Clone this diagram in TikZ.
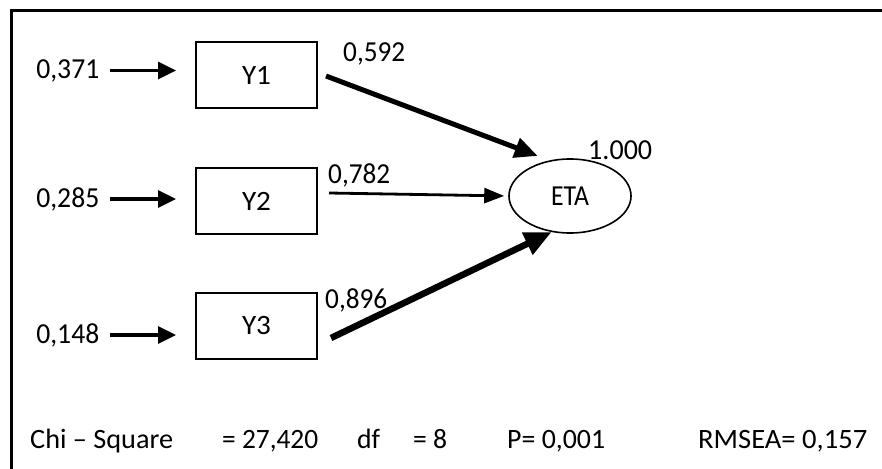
\documentclass[tikz,border=0pt]{standalone}
\usepackage{fontspec}
\setmainfont{Carlito}
\usepackage{graphicx}
\usetikzlibrary{arrows.meta,shapes.geometric}
\newcommand\fw[2]{\resizebox{#1pt}{\height}{#2}}
\begin{document}
\begin{tikzpicture}[x=1pt,y=-1pt,
  lbl/.style={inner sep=0pt, text height=17pt, text depth=0pt, font=\fontsize{29}{34}\selectfont},
  stat/.style={inner sep=0pt, text height=16pt, text depth=0pt, anchor=west, font=\fontsize{28}{33}\selectfont},
  obsbox/.style={draw, line width=2pt, minimum width=121pt, minimum height=66pt, inner sep=0pt, font=\fontsize{28}{33}\selectfont},
  latent/.style={draw, ellipse, line width=1.6pt, minimum width=122pt, minimum height=74pt, inner sep=0pt, font=\fontsize{29}{34}\selectfont},
  errarrow/.style={line width=3.3pt, shorten <=10pt, shorten >=19pt, -{Triangle[length=18pt,width=17pt]}},
  patha/.style={line width=5pt, -{Triangle[length=23pt,width=20pt]}},
  pathb/.style={line width=2.8pt, -{Triangle[length=20pt,width=15pt]}},
  pathc/.style={line width=6.5pt, -{Triangle[length=27pt,width=23pt]}},
  frame/.style={line width=3pt}
]
\useasboundingbox (0,0) rectangle (882,468);
% frame (left and top edges visible)
\coordinate (fTL) at (11,11);
\coordinate (fTR) at (885,11);
\coordinate (fBL) at (11,471);
\draw[frame] (fBL) -- (fTL) -- (fTR);

% observed variables
\node[obsbox] (Y1) at (256.5,75) {\fw{29}{Y1}};
\node[obsbox] (Y2) at (256.5,201) {\fw{29}{Y2}};
\node[obsbox] (Y3) at (256.5,326) {\fw{29}{Y3}};

% latent variable
\node[latent] (ETA) at (570,196) {\fw{38}{ETA}};
\node[lbl, anchor=west] (v) at (588,151) {\fw{64}{1.000}};

% error variances
\node[lbl, anchor=east] (e1) at (99.5,70.5) {\fw{63}{0,371}};
\node[lbl, anchor=east] (e2) at (99.5,199) {\fw{63}{0,285}};
\node[lbl, anchor=east] (e3) at (99.5,335) {\fw{63}{0,148}};
\draw[errarrow] (e1.east) -- (e1.east -| Y1.west);
\draw[errarrow] (e2.east) -- (e2.east -| Y2.west);
\draw[errarrow] (e3.east) -- (e3.east -| Y3.west);

% loadings
\draw[patha, shorten >=12.6pt] ([xshift=8pt,yshift=-1pt]Y1.east) -- (ETA.120);
\draw[pathb, shorten >=4pt] ([xshift=11pt,yshift=8pt]Y2.east) -- (ETA.west);
\draw[pathc] ([xshift=13pt,yshift=-12pt]Y3.east) -- (ETA.243);

\node[lbl, anchor=west] (l1) at (343,53) {\fw{62}{0,592}};
\node[lbl, anchor=west] (l2) at (328,175) {\fw{62}{0,782}};
\node[lbl, anchor=west] (l3) at (325,300) {\fw{62}{0,896}};

% fit statistics
\node[stat] (s1) at (30,440.5) {\fw{143}{Chi -- Square}};
\node[stat] (s2) at (222,440.5) {\fw{96}{= 27,420}};
\node[stat] (s3) at (357,440.5) {\fw{23}{df}};
\node[stat] (s4) at (413,440.5) {\fw{34}{= 8}};
\node[stat] (s5) at (507,440.5) {\fw{98}{P= 0,001}};
\node[stat] (s6) at (698,440.5) {\fw{169}{RMSEA= 0,157}};
\end{tikzpicture}
\end{document}
